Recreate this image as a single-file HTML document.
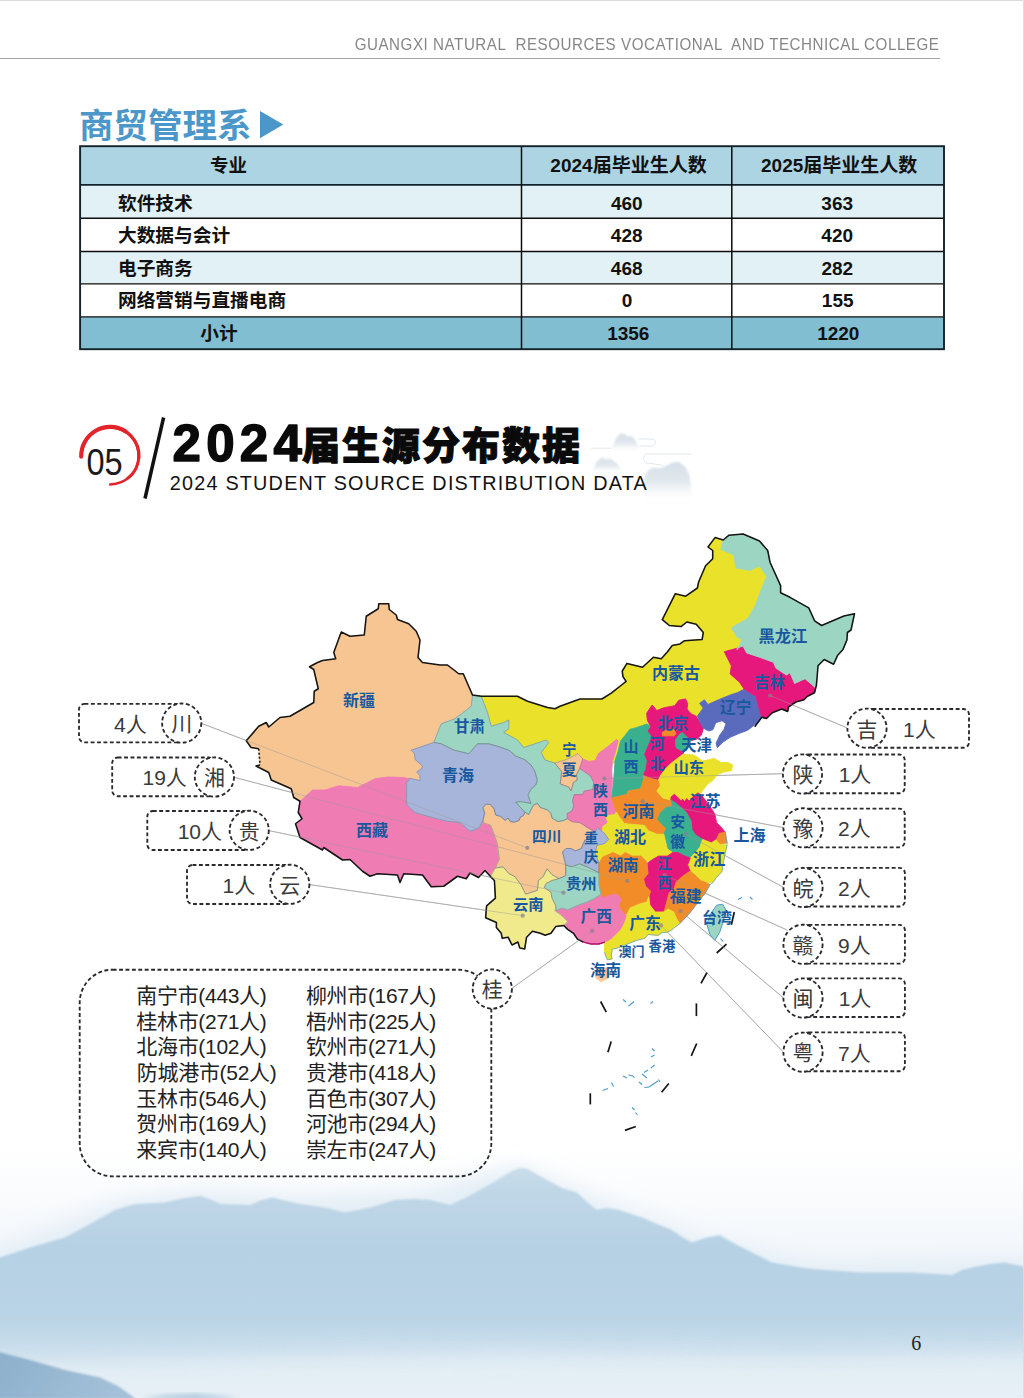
<!DOCTYPE html>
<html lang="zh"><head><meta charset="utf-8"><title>2024届生源分布数据</title>
<style>
html,body{margin:0;padding:0;background:#fff}
body{width:1024px;height:1398px;position:relative;overflow:hidden;font-family:"Liberation Sans",sans-serif}
.abs{position:absolute}
#page{position:absolute;left:0;top:0;width:1024px;height:1398px;overflow:hidden;background:#fff}
#hdr{position:absolute;right:84.4px;top:34.4px;height:20px;line-height:20px;font-size:16.2px;letter-spacing:0.59px;color:#868686;white-space:pre;transform:scaleX(0.935);transform-origin:right center}
#hline{position:absolute;left:0;top:57.8px;width:940px;height:1.6px;background:#a6a6a6}
#sub{position:absolute;left:169.8px;top:471.3px;font-size:19.8px;line-height:24px;color:#111;white-space:nowrap;letter-spacing:1.22px}
#pgno{position:absolute;left:911.3px;top:1331px;font-family:"Liberation Serif",serif;font-size:20px;line-height:24px;color:#222}
svg{position:absolute;left:0;top:0}
svg text{font-family:"Liberation Sans","Noto Sans CJK SC",sans-serif}
</style></head><body><div id="page">

<svg width="1024" height="1398" viewBox="0 0 1024 1398">
<defs>
<linearGradient id="haze" x1="0" y1="0" x2="0" y2="1"><stop offset="0" stop-color="#ffffff"/><stop offset="0.3" stop-color="#f6f9fc"/><stop offset="1" stop-color="#e6eff6"/></linearGradient>
<linearGradient id="mt" x1="0" y1="0" x2="0" y2="1"><stop offset="0" stop-color="#c9dcea"/><stop offset="0.1" stop-color="#c0d7e7"/><stop offset="0.35" stop-color="#b6d1e4"/><stop offset="0.65" stop-color="#bad4e6"/><stop offset="0.8" stop-color="#cde0ed"/><stop offset="0.88" stop-color="#dae8f1"/><stop offset="1" stop-color="#e6eff5"/></linearGradient>
<linearGradient id="mt2" x1="0" y1="0" x2="1" y2="0.25"><stop offset="0" stop-color="#8cafcb"/><stop offset="1" stop-color="#a3c0d8"/></linearGradient>
<filter id="b1" x="-5%" y="-5%" width="110%" height="110%"><feGaussianBlur stdDeviation="1.3"/></filter>
<filter id="b6" x="-10%" y="-30%" width="120%" height="160%"><feGaussianBlur stdDeviation="10"/></filter>
<filter id="b3" x="-10%" y="-30%" width="120%" height="160%"><feGaussianBlur stdDeviation="2.5"/></filter>
</defs>
<rect x="0" y="1150" width="1024" height="248" fill="url(#haze)"/>
<path filter="url(#b6)" fill="#e4eef6" d="M-20 1255 L40 1232 L120 1200 L200 1190 L300 1196 L420 1190 L520 1166 L600 1200 L700 1238 L820 1262 L1044 1256 L1044 1300 L-20 1300Z"/>
<path filter="url(#b1)" fill="url(#mt)" d="M-5 1259 L30 1247.5 L65 1237.5 L90 1224 L115 1210 L135 1204 L165 1202.5 L185 1198 L200 1196 L212 1200 L220 1204 L250 1205 L262 1200 L272.5 1197.5 L286 1201 L300 1204 L325 1207.5 L345 1212.5 L358 1210 L370 1207.5 L395 1200 L415 1199 L430 1200 L450 1205 L465 1198 L480 1190 L497 1180 L512 1171 L520 1168 L527 1168.5 L538 1175 L547 1180 L562 1188 L577 1192.5 L588 1203 L597 1210 L606 1208 L617 1209.5 L628 1213 L642 1217.5 L657 1224 L672 1230 L682 1237 L692 1242.5 L705 1238 L719.5 1235 L728 1240 L737 1245 L755 1254 L772 1262.5 L792 1266 L812 1269 L862 1272.5 L912 1272.5 L937 1274 L952 1275 L962 1270 L972 1267.5 L990 1264 L1004.5 1262.5 L1030 1268 L1030 1400 L-5 1400Z"/>
<path filter="url(#b6)" fill="#e9f1f7" opacity="0.6" d="M-20 1368 L200 1360 L500 1352 L800 1358 L1044 1352 L1044 1420 L-20 1420Z"/>
<path filter="url(#b1)" fill="url(#mt2)" d="M-5 1351 L30 1360 L65 1370 L100 1377.5 L118 1386 L136 1399 L-5 1399Z"/>
<path filter="url(#b3)" fill="#a6c2d8" d="M140 1399 L165 1395.5 L195 1394 L228 1397 L238 1399Z"/>
<g id="decor">
<defs><linearGradient id="dm" x1="0" y1="0" x2="0" y2="1"><stop offset="0" stop-color="#d5dfe7"/><stop offset="0.5" stop-color="#e2e9ee"/><stop offset="1" stop-color="#ffffff" stop-opacity="0"/></linearGradient>
<filter id="bl1" x="-20%" y="-20%" width="140%" height="140%"><feGaussianBlur stdDeviation="0.9"/></filter></defs>
<path filter="url(#bl1)" fill="url(#dm)" d="M611 453 L612.4 447.9 L615.5 439 L620.6 433.3 L624.4 434 L627.6 436.5 L631.4 435.9 L634.6 439 L638.4 446.7 L640.5 453Z"/>
<path filter="url(#bl1)" fill="url(#dm)" d="M591.5 474 L592.7 470.8 L596.5 461.9 L601.6 457.5 L606 459.4 L610.5 458.7 L616.8 463.2 L621.9 470.8 L623 474Z"/>
<path filter="url(#bl1)" fill="url(#dm)" d="M643.5 503 L644.7 475.9 L648.6 470.1 L653.6 467.6 L661.25 468.2 L666.3 465.7 L672.7 462.5 L679 461.9 L685.4 467 L689.2 474.6 L691.1 486 L691.3 503Z"/>
<path d="M590.8 448.2H611.7" stroke="#dfe5ea" stroke-width="0.9" fill="none"/>
<path d="M638.4 439H651.5C657 439 657 446 651.5 446H639.6" stroke="#dde4e9" stroke-width="0.9" fill="none"/>
<path d="M691.7 454H647C642.5 454 642.5 463 647 463L661 465L663.8 467.6" stroke="#dde4e9" stroke-width="0.9" fill="none"/>
</g></svg>
<div id="hdr">GUANGXI NATURAL  RESOURCES VOCATIONAL  AND TECHNICAL COLLEGE</div><div id="hline"></div>
<div id="sub">2024 STUDENT SOURCE DISTRIBUTION DATA</div>
<div id="pgno">6</div>
<svg width="1024" height="1398" viewBox="0 0 1024 1398">
<defs><filter id="bl2" x="-20%" y="-20%" width="140%" height="140%"><feGaussianBlur stdDeviation="2"/></filter><filter id="bl4" x="-20%" y="-20%" width="140%" height="140%"><feGaussianBlur stdDeviation="4"/></filter></defs>
<path d="M0 0.5H1023.5V1397" fill="none" stroke="#dcdcdc" stroke-width="1"/>
<text x="79" y="138" font-size="34.5" font-weight="bold" fill="#4b97c9">商贸管理系</text>
<path d="M260 110.9L283.3 124.6L260 138.3Z" fill="#4b97c9"/>
<rect x="80.1" y="146.2" width="863.9" height="38.7" fill="#acd4e3"/>
<rect x="80.1" y="184.9" width="863.9" height="33.4" fill="#e2f1f5"/>
<rect x="80.1" y="218.3" width="863.9" height="33.2" fill="#ffffff"/>
<rect x="80.1" y="251.5" width="863.9" height="32.4" fill="#e2f1f5"/>
<rect x="80.1" y="283.9" width="863.9" height="33.0" fill="#ffffff"/>
<rect x="80.1" y="316.9" width="863.9" height="32.3" fill="#82bed1"/>
<path d="M80.1 218.3H944.0" stroke="#0c0c0c" stroke-width="1.4"/>
<path d="M80.1 251.5H944.0" stroke="#0c0c0c" stroke-width="1.4"/>
<path d="M80.1 283.9H944.0" stroke="#0c0c0c" stroke-width="1.4"/>
<path d="M80.1 316.9H944.0" stroke="#0c0c0c" stroke-width="1.4"/>
<path d="M80.1 184.9H944.0" stroke="#12222a" stroke-width="1.9"/>
<path d="M521.5 146.2V349.2" stroke="#0c0c0c" stroke-width="1.5"/>
<path d="M731.8 146.2V349.2" stroke="#0c0c0c" stroke-width="1.5"/>
<rect x="80.1" y="146.2" width="863.9" height="203.0" fill="none" stroke="#12222a" stroke-width="1.9"/>
<g font-weight="bold" fill="#111">
<text x="228.5" y="172.4" font-size="18.5" text-anchor="middle">专业</text>
<text x="628.5" y="172.4" font-size="19" text-anchor="middle">2024届毕业生人数</text>
<text x="839.2" y="172.4" font-size="19" text-anchor="middle">2025届毕业生人数</text>
<text x="118" y="209.6" font-size="18.7">软件技术</text>
<text x="626.8" y="209.6" font-size="19" text-anchor="middle">460</text>
<text x="837.2" y="209.6" font-size="19" text-anchor="middle">363</text>
<text x="118" y="241.9" font-size="18.7">大数据与会计</text>
<text x="626.7" y="241.9" font-size="19" text-anchor="middle">428</text>
<text x="837.2" y="241.9" font-size="19" text-anchor="middle">420</text>
<text x="118" y="274.5" font-size="18.7">电子商务</text>
<text x="626.7" y="274.5" font-size="19" text-anchor="middle">468</text>
<text x="837.3" y="274.5" font-size="19" text-anchor="middle">282</text>
<text x="118" y="307.2" font-size="18.7">网络营销与直播电商</text>
<text x="627" y="307.2" font-size="19" text-anchor="middle">0</text>
<text x="837.7" y="307.2" font-size="19" text-anchor="middle">155</text>
<text x="218.9" y="340" font-size="18.7" text-anchor="middle">小计</text>
<text x="628.3" y="340" font-size="19" text-anchor="middle">1356</text>
<text x="838.3" y="340" font-size="19" text-anchor="middle">1220</text>
</g>
<path d="M81.5 456.2A28.6 28.6 0 1 1 110.1 484.4" fill="none" stroke="#e3242b" stroke-width="2.5" stroke-linecap="round"/>
<path d="M81.2 456.6A28.9 28.9 0 0 1 125.4 431.3" fill="none" stroke="#e3242b" stroke-width="4.1" stroke-linecap="round"/>
<path d="M110.1 427A28.8 28.8 0 0 1 138.8 458" fill="none" stroke="#e3242b" stroke-width="3.3" stroke-linecap="round"/>
<path d="M138.8 456A28.7 28.7 0 0 1 128 478.2" fill="none" stroke="#e3242b" stroke-width="2.9" stroke-linecap="round"/>
<text x="86.5" y="474.6" font-size="37" fill="#1a1a1a" textLength="36.2" lengthAdjust="spacingAndGlyphs">05</text>
<path d="M163.6 417.5L145 498.5" stroke="#111" stroke-width="3.5" fill="none"/>
<text x="172.5" y="460.6" font-size="51" font-weight="bold" letter-spacing="5.3" fill="#0a0a0a" stroke="#0a0a0a" stroke-width="1.5" stroke-linejoin="round">2024</text>
<text x="302" y="459" font-size="38" font-weight="900" letter-spacing="2" fill="#0a0a0a" stroke="#0a0a0a" stroke-width="1.1" stroke-linejoin="round">届生源分布数据</text>
<g id="map">
<g><line x1="201.5" y1="723.4" x2="527.3" y2="847.9" stroke="#9a9a9a" stroke-width="0.65"/>
<line x1="234.2" y1="777.3" x2="627.2" y2="880.9" stroke="#9a9a9a" stroke-width="0.65"/>
<line x1="269.0" y1="830.6" x2="563.4" y2="892.7" stroke="#9a9a9a" stroke-width="0.65"/>
<line x1="309.6" y1="884.6" x2="522.7" y2="915.7" stroke="#9a9a9a" stroke-width="0.65"/>
<line x1="847.2" y1="727.9" x2="770.0" y2="695.5" stroke="#9a9a9a" stroke-width="0.65"/>
<line x1="782.7" y1="773.7" x2="604.4" y2="778.6" stroke="#9a9a9a" stroke-width="0.65"/>
<line x1="783.2" y1="827.5" x2="642.7" y2="801.3" stroke="#9a9a9a" stroke-width="0.65"/>
<line x1="783.2" y1="887.2" x2="685.8" y2="834.2" stroke="#9a9a9a" stroke-width="0.65"/>
<line x1="787.5" y1="930.2" x2="664.7" y2="875.1" stroke="#9a9a9a" stroke-width="0.65"/>
<line x1="783.2" y1="997.7" x2="680.6" y2="911.0" stroke="#9a9a9a" stroke-width="0.65"/>
<line x1="783.2" y1="1051.9" x2="661.0" y2="925.4" stroke="#9a9a9a" stroke-width="0.65"/>
<line x1="512.1" y1="988.2" x2="592.1" y2="930.9" stroke="#9a9a9a" stroke-width="0.65"/></g>
<polygon points="481.25,696.25 517.5,696.25 527.5,701.25 547.5,707.5 555,708.75 560,706.25 580,699 601.9,699 611.25,693.1 622.2,684.5 626.1,681.4 623,676.7 622.2,671.25 626.9,663.4 642.5,667.3 653.4,657.2 661.25,658.75 667.5,651.7 672.2,645.5 680,643.9 684.5,640.7 702.1,639.5 703.3,632.5 696.25,624.3 686.9,622 681,626.6 669.3,625.5 662.3,619.6 675.2,593.8 685.7,596.2 697.4,588 698.6,582 705.6,565.7 712.7,558.7 712.7,550.5 708,547 715,537.6 723.2,540 720.9,549.3 733.75,555.2 736,568 750,570.4 759.5,565.7 766.6,576.25 761.9,588 754.8,606.7 747.8,618.4 731.4,627.8 737.25,637.2 742,639.5 737.25,650 724.4,653.6 736,660 740,675 746,690 737.2,692.7 730.2,695 718.4,699.8 707.9,704.5 704.4,699.8 699.7,703.3 703.2,708 697.3,716.2 690,720 660,735 640,745 620,760 590,775 560,780 540,770 520,760 500,745 490,735 487.5,712.5" fill="#e9e12a" stroke="#e9e12a" stroke-width="0.9" stroke-linejoin="round"/>
<polygon points="378.75,603.75 388.75,603.75 389.25,609.5 396.25,615 397.5,619.5 408.75,623.75 416.25,631.25 420,640 418,657.5 422.5,662.5 440,665 447.5,665 458.75,673.75 463.25,673.75 472.5,695 471.25,706.25 455,718.75 441.25,723.75 433.75,742.5 432,760 430,783 405,783 387.5,777 375,778.75 357.5,787.5 338.75,785.75 325,790 312.5,790 300,801.25 293.75,797.5 291.25,788.75 271.25,780 268.75,772.5 256,766 260,765 258.75,748.75 251,747.5 247.5,742.5 246.25,740.75 258.75,726.25 266.25,722.5 268.75,727 280,717.5 290,716.25 313.75,702.5 314.25,691.25 318.25,688.75 313.75,669.5 309.5,666.75 317.5,662.5 322.5,660.5 335.75,658.75 333.75,652.5 341.25,632 350,636.25 364.25,635 366.25,616.25 378.25,608.75" fill="#f6c592" stroke="#f6c592" stroke-width="0.9" stroke-linejoin="round"/>
<polygon points="300,801.25 312.5,790 325,790 338.75,785.75 357.5,787.5 375,778.75 387.5,777 402.7,777.5 412,779 413,800 421,809 435,813 450,817 463,818 473,827 478,826 482.9,820.4 484.6,823.3 490.5,825.1 493.4,832.1 497.3,843.4 499.3,859 495.4,867.9 490.5,876.6 485,870.5 478.5,877.5 470,873 466.25,878.75 457.5,876.25 443.75,886.25 431.25,886.75 422.5,875 403.75,873.75 400,882.5 397.5,875 377.5,873.75 370,876.25 362.5,871.25 350,859.5 342.5,860 323.75,847.5 322.5,850 300,837.5 295.5,823.75 302,818.75 298.25,812.5" fill="#f07cb4" stroke="#f07cb4" stroke-width="0.9" stroke-linejoin="round"/>
<polygon points="486.4,804 490.5,804.6 494,808.7 495.8,815.1 500.5,816.3 505.2,820.4 508.1,818 510.4,821.6 514.5,822.1 519.2,820.4 520.4,816.9 523.3,815.7 525.1,812.2 528.6,814.5 533.3,805.2 537.4,803.4 540.3,807.5 547.3,809.8 550.9,813.4 552,818 557.9,821.6 563.75,820.4 567.3,818.6 572,821.6 580.2,822.7 587.2,827.4 595,831.7 587.2,839.5 584.8,840.3 581.3,848.5 575.5,850.9 570.8,848.5 566.1,848.5 562.6,852 563.75,856.7 565.7,864.9 565.7,868.8 565.7,875.7 558.9,878.6 552,874.7 547.1,868.8 543.2,876.6 538.4,880.5 537.4,890.3 525.7,894.2 520.8,884.5 514.9,876.6 509,873.7 503.2,866.9 495.4,867.9 499.3,859 497.3,843.4 493.4,832.1 490.5,825.1 484.6,823.3 482.9,820.4 484.6,813.4 482.9,807.5" fill="#f6c592" stroke="#f6c592" stroke-width="0.9" stroke-linejoin="round"/>
<polygon points="433.75,742.5 441.25,743.75 453.75,750 468.75,753.75 477.5,743.75 488.75,743.75 500,747 509.4,750.5 515.6,756 525,759.8 531.25,765.3 535,771.5 537.4,780.5 535.6,785.2 530.9,789.3 528,795.2 529.8,800.5 530.9,803.4 520.4,801.6 515.7,802.2 521.6,808.7 525.1,812.2 523.3,815.7 520.4,816.9 519.2,820.4 514.5,822.1 510.4,821.6 508.1,818 505.2,820.4 500.5,816.3 495.8,815.1 494,808.7 490.5,804.6 486.4,804 482.9,807.5 484.6,813.4 482.9,820.4 479.4,827.4 474.7,829.8 470,831.25 460,822.5 447.5,821.25 432.5,817.5 415,812.5 407,805 406.6,800 406.6,782.2 408.9,780.6 409.3,778.3 420.2,780.6 419.8,775.2 416.7,772 422.2,768.1 422.2,765.8 415.2,759.5 414.4,753.3 411.25,750.2" fill="#a8b5db" stroke="#a8b5db" stroke-width="0.9" stroke-linejoin="round"/>
<polygon points="472.5,695 481.25,696.25 487.5,712.5 491.25,726.25 503.75,722.5 508.75,720 508.75,728.75 503.75,732.5 517.5,740 523.75,747.5 535,743.75 546.25,740 548.75,742.5 541.25,752.5 545,760 554.7,763 561.7,771.6 560.2,784 568.75,787 571,791 573.4,782.5 577.3,780 576.5,774.7 579.7,768.4 590.6,776 593.75,782.5 593,789.5 584.3,791.1 582.5,794.6 574.3,794.6 572.5,800.5 573.7,806.3 572,811 567.3,813.4 567.3,818.6 563.75,820.4 557.9,821.6 552,818 550.9,813.4 547.3,809.8 540.3,807.5 537.4,803.4 533.3,805.2 528.6,814.5 525.1,812.2 521.6,808.7 515.7,802.2 520.4,801.6 530.9,803.4 529.8,800.5 528,795.2 530.9,789.3 535.6,785.2 537.4,780.5 535,771.5 531.25,765.3 525,759.8 515.6,756 509.4,750.5 500,747 488.75,743.75 477.5,743.75 468.75,753.75 453.75,750 441.25,743.75 433.75,742.5 441.25,723.75 455,718.75 471.25,706.25" fill="#9dd5c3" stroke="#9dd5c3" stroke-width="0.9" stroke-linejoin="round"/>
<polygon points="554.7,763 565.6,759.8 578,753.6 582.8,759 579.7,768.4 576.5,774.7 577.3,780 573.4,782.5 571,791 568.75,787 560.2,784 561.7,771.6" fill="#f6c592" stroke="#f6c592" stroke-width="0.9" stroke-linejoin="round"/>
<polygon points="616.4,739.5 618,741 615.6,751.25 612.5,760.6 611.7,771.5 612.5,782.5 611,798 616.4,812 614.8,814.5 609.4,815.3 606.25,816.9 607.8,823 603,826.25 602.3,831.7 597.7,827.8 595,831.7 587.2,827.4 580.2,822.7 572,821.6 567.3,818.6 567.3,813.4 572,811 573.7,806.3 572.5,800.5 574.3,794.6 582.5,794.6 584.3,791.1 593,789.5 593.75,782.5 590.6,776 579.7,768.4 582.8,759 589,761.4 595.3,760.6 598.4,753.6 607.8,746.6" fill="#f07cb4" stroke="#f07cb4" stroke-width="0.9" stroke-linejoin="round"/>
<polygon points="629.7,729.4 636,727.8 646.9,724 650.8,726.9 648,731 652.1,736.5 648.7,744.7 644.6,754.3 647.3,761.1 646,769.3 643.2,775.5 643.75,778.6 640.6,788.75 628,791 627.3,794.2 611.7,798 613.5,782.5 614.3,771.5 615,760.6 618.2,751.25 620.5,741 625,735.6" fill="#3bb08f" stroke="#3bb08f" stroke-width="0.9" stroke-linejoin="round"/>
<polygon points="652.1,705 656.9,710.5 663.75,707.8 674.7,705.7 678.8,700.25 685.6,698.9 687.7,703.7 687,709.1 691.1,713.9 695.9,716 700,722.1 703.4,728.3 701.4,735.1 696.6,739.2 691.1,740.6 688.4,744.7 684.3,750.2 682.9,754.3 677.4,758.4 670.6,763.8 665.1,769.3 661,774.8 658.3,780.25 652.1,778.9 643.2,775.5 646,769.3 647.3,761.1 644.6,754.3 648.7,744.7 652.1,736.5 648,731 650.8,726.9 647.3,720.1 646.7,713.2" fill="#e7187c" stroke="#e7187c" stroke-width="0.9" stroke-linejoin="round"/>
<polygon points="678.8,735.1 682.2,732.4 687,737.2 691.1,740.6 688.4,744.7 684.3,750.2 680.2,750.2 676,747.4 675.4,740.6" fill="#3bb08f" stroke="#3bb08f" stroke-width="0.9" stroke-linejoin="round"/>
<polygon points="662.4,732.4 667.2,729 674,729.6 676,733.75 674,735.8 662.4,735.8" fill="#f28c28" stroke="#f28c28" stroke-width="0.9" stroke-linejoin="round"/>
<polygon points="744.2,689.2 755.9,696.25 758.3,705.6 761.8,717.3 758.3,722 747.7,730.2 738.4,733.75 730.2,737.3 723.1,742 717.3,747.8 716.1,743.1 719.8,735.1 723.9,729.6 726,723.5 721.9,720.8 715.7,722.8 713,729.6 708.9,731 703.4,728.3 700,722.1 697.3,716.2 703.2,708 699.7,703.3 704.4,699.8 707.9,704.5 718.4,699.8 730.2,695 737.2,692.7" fill="#5a6bbd" stroke="#5a6bbd" stroke-width="0.9" stroke-linejoin="round"/>
<polygon points="724.3,651.7 737.2,648.2 743,645.9 746.6,652.9 760.6,657.6 773.5,662.3 775.8,668 786.4,675 790,672.8 794.6,683.4 805.1,678.7 815.7,688 814.5,692.7 807.5,696.25 804,699.8 795.8,702 788.7,706.8 787.6,711.5 781.7,709 772.3,712.7 766.5,718.5 761.8,717.3 758.3,705.6 755.9,696.25 744.2,689.2 739.5,682.2 730.2,674 731.3,665.8" fill="#e7187c" stroke="#e7187c" stroke-width="0.9" stroke-linejoin="round"/>
<polygon points="723.2,540 729,535.2 743.1,534 759.5,541 767.7,550.5 770,562.2 780.6,585.6 780.6,592.7 790,597.3 808.75,607.9 814.6,620.8 821.6,625.5 843.9,616 854.5,613.75 851,630 847.4,632.5 846.9,640 843,649.4 837.5,655.6 833.6,664.2 824.2,659.5 818,665.8 817.2,676 816.4,685.3 815.7,688 805.1,678.7 794.6,683.4 790,672.8 786.4,675 775.8,668 773.5,662.3 760.6,657.6 746.6,652.9 743,645.9 737.2,648.2 737.25,650 742,639.5 737.25,637.2 731.4,627.8 747.8,618.4 754.8,606.7 761.9,588 766.6,576.25 759.5,565.7 750,570.4 736,568 733.75,555.2 720.9,549.3" fill="#9dd5c3" stroke="#9dd5c3" stroke-width="0.9" stroke-linejoin="round"/>
<polygon points="611.5,798 627.3,794.2 628,791 640.6,788.75 643.75,778.6 643.2,775.5 652.1,778.9 658.3,780.25 659.4,779.7 660.3,785.8 656.8,791.1 662.9,798.1 670.9,799.9 672.6,806 665.6,807.8 660.3,813.1 657.7,819.2 662.1,824.5 666.5,828 663.8,834.2 656.8,834.2 648,830.6 644.5,825.4 633.9,824.5 624.3,823.6 619,816.6 616.4,812" fill="#f28c28" stroke="#f28c28" stroke-width="0.9" stroke-linejoin="round"/>
<polygon points="682.9,754.3 693.8,755 699.3,758.4 702,761.1 708.9,759.7 714.3,758.4 721.2,762.5 728,762.5 732.8,765.2 731.4,770.7 723.9,772 717.1,774.8 713,780.25 707.5,784.3 702,791.2 699,796 692,802 684,804 676.1,800 670.9,799.9 662.9,798.1 656.8,791.1 660.3,785.8 659.4,779.7 658.3,780.25 661,774.8 665.1,769.3 670.6,763.8 677.4,758.4" fill="#e9e12a" stroke="#e9e12a" stroke-width="0.9" stroke-linejoin="round"/>
<polygon points="671,797.1 674.4,794.2 678.3,798.1 681.25,801 682.7,799 684.7,802 686.6,798.6 689.1,801 692,797.6 697.9,792.9 701.8,795.6 708.6,804.4 714.8,813.9 716.6,822.7 721.8,828 725.3,832.4 719.2,833.3 716.6,839.4 711.3,842.9 702.5,839.4 695.5,835 692,829.8 691.1,821 686.7,813.1 681.4,807.8 676.1,803.4 670.9,799.9" fill="#e7187c" stroke="#e7187c" stroke-width="0.9" stroke-linejoin="round"/>
<polygon points="670.9,799.9 676.1,803.4 681.4,807.8 686.7,813.1 691.1,821 692,829.8 695.5,835 702.5,839.4 699.9,847.3 695.5,852.6 690.2,857.9 684.9,856.1 677.9,852.6 672.6,852.6 667.3,849.1 665.6,842 663.8,834.2 666.5,828 662.1,824.5 657.7,819.2 660.3,813.1 665.6,807.8 672.6,806" fill="#3bb08f" stroke="#3bb08f" stroke-width="0.9" stroke-linejoin="round"/>
<polygon points="616.4,812 619,816.6 624.3,823.6 633.9,824.5 644.5,825.4 648,830.6 656.8,834.2 663.8,834.2 665.6,842 667.3,849.1 672.6,852.6 667.3,856.1 658.6,856.1 652.4,859.6 646.25,861.4 641,856.1 632.2,856.1 625.2,852.6 620.8,856.1 612.9,852.6 602.8,857.1 598.9,863 595,853.2 597,845.4 604.8,843.4 608.7,839.5 604.8,833.7 602.3,831.7 603,826.25 607.8,823 606.25,816.9 609.4,815.3 614.8,814.5" fill="#e9e12a" stroke="#e9e12a" stroke-width="0.9" stroke-linejoin="round"/>
<polygon points="595,831.7 597.7,827.8 602.3,831.7 604.8,833.7 608.7,839.5 604.8,843.4 597,845.4 595,853.2 598.9,863 598.9,872.7 591.1,868.8 587.2,866.9 579.4,863.9 571.6,866.9 565.7,864.9 563.75,856.7 562.6,852 566.1,848.5 570.8,848.5 575.5,850.9 581.3,848.5 584.8,840.3 587.2,839.5" fill="#a8b5db" stroke="#a8b5db" stroke-width="0.9" stroke-linejoin="round"/>
<polygon points="702.5,839.4 711.3,842.9 716.6,839.4 720,843.8 727.1,845 725.3,852.6 723.6,861.4 721.8,872 716.6,877.2 713,882.5 706,882.5 700.7,880.7 695.5,875.5 690.2,871.1 687.6,864.9 690.2,857.9 695.5,852.6 699.9,847.3" fill="#e9e12a" stroke="#e9e12a" stroke-width="0.9" stroke-linejoin="round"/>
<polygon points="719.2,833.3 725.3,832.4 727.1,843 720,843.8 716.6,839.4" fill="#f28c28" stroke="#f28c28" stroke-width="0.9" stroke-linejoin="round"/>
<polygon points="658.6,856.1 667.3,856.1 672.6,852.6 677.9,852.6 684.9,856.1 690.2,857.9 687.6,864.9 690.2,871.1 681.4,877.2 676.1,882.5 674.4,887.8 669.1,893 667.3,900.1 664,912 655.2,912 649.8,905 648.9,896.6 650.6,891.3 645.4,886 643.6,879 648,873.7 647.1,863.2 652.4,859.6" fill="#e7187c" stroke="#e7187c" stroke-width="0.9" stroke-linejoin="round"/>
<polygon points="690.2,871.1 695.5,875.5 700.7,880.7 706,882.5 709.9,884.6 705,893.4 697.2,903.2 691.3,911 683.5,919.8 679.6,923.7 676.7,918.8 673.75,912 667.9,909.1 664,912 667.3,900.1 669.1,893 674.4,887.8 676.1,882.5 681.4,877.2" fill="#f28c28" stroke="#f28c28" stroke-width="0.9" stroke-linejoin="round"/>
<polygon points="598.9,863 602.8,857.1 612.9,852.6 620.8,856.1 625.2,852.6 632.2,856.1 641,856.1 646.25,861.4 647.1,863.2 648,873.7 643.6,879 645.4,886 650.6,891.3 648.9,896.6 646.8,902 639.9,904 630.2,907.9 626.25,915.7 622.3,911.8 618.4,905.9 621.4,899.1 616.5,894.2 610.6,895.2 602.8,898.1 600.9,894.2 598.9,884.5 598.9,872.7" fill="#f28c28" stroke="#f28c28" stroke-width="0.9" stroke-linejoin="round"/>
<polygon points="626.25,915.7 630.2,907.9 639.9,904 646.8,902 648.9,896.6 649.8,905 655.2,912 664,912 667.9,909.1 673.75,912 676.7,918.8 679.6,923.7 675.7,926.6 670.8,930.5 665.9,932.5 662,932.5 658.1,935.4 648.4,934.5 644.5,938.4 636.6,940.3 626.9,944.2 617.1,948.1 612.2,949.1 611.25,955.9 612.2,958.9 607.3,959.8 604.4,952 604.8,942.1 610.6,939.1 614.5,935.2 620.4,929.4 624.3,921.6" fill="#e9e12a" stroke="#e9e12a" stroke-width="0.9" stroke-linejoin="round"/>
<polygon points="555.9,910.8 561.8,907.9 567.7,909.8 576.4,905.9 581.3,904 587.2,902 595,898.1 600.9,894.2 602.8,898.1 610.6,895.2 616.5,894.2 621.4,899.1 618.4,905.9 622.3,911.8 626.25,915.7 624.3,921.6 620.4,929.4 614.5,935.2 610.6,939.1 604.8,942.1 598.9,944 591.1,944 583.3,942.1 577.4,939.1 573.5,933.3 567.7,929.4 563.75,925.5 567.7,921.6 561.8,915.7 555,910.8" fill="#f07cb4" stroke="#f07cb4" stroke-width="0.9" stroke-linejoin="round"/>
<polygon points="544.2,887.4 546.2,883.5 552,880.5 558.9,878.6 565.7,875.7 565.7,868.8 565.7,864.9 571.6,866.9 579.4,863.9 587.2,866.9 591.1,868.8 598.9,872.7 598.9,884.5 600.9,894.2 595,898.1 587.2,902 581.3,904 576.4,905.9 567.7,909.8 561.8,907.9 556,910.8 555.9,905.9 552,898.1 551,892.3" fill="#9dd5c3" stroke="#9dd5c3" stroke-width="0.9" stroke-linejoin="round"/>
<polygon points="490.5,876.6 495.4,867.9 503.2,866.9 509,873.7 514.9,876.6 520.8,884.5 525.7,894.2 537.4,890.3 538.4,880.5 543.2,876.6 547.1,868.8 552,874.7 558.9,878.6 552,880.5 546.2,883.5 544.2,887.4 551,892.3 552,898.1 555.9,905.9 555,910.8 561.8,915.7 567.7,921.6 563.75,925.5 555.9,926.4 551,933.3 545.2,935.2 540.3,933.3 532.5,931.3 526.6,937.2 524.7,948.9 519.8,947.9 517.9,942 512,945 508.1,937.2 502.2,938.2 501.25,933.3 496.4,927.4 496.4,922.5 485.6,917.7 486.6,905.9 495.4,898.1 494.4,880.5" fill="#f0ea8c" stroke="#f0ea8c" stroke-width="0.9" stroke-linejoin="round"/>
<polygon points="595,972 599,968 607,968 610.5,973 607,979 601,981.5 596,978" fill="#f6c592" stroke="#f6c592" stroke-width="0.9" stroke-linejoin="round"/>
<polygon points="716.7,905.2 722.6,904.2 725.5,909.1 723.5,920.8 719.6,932.5 714.8,940.3 709.9,934.5 707,924.7 709.9,914.9" fill="#9dd5c3" stroke="#4a9ac9" stroke-width="1"/>
<polygon points="433.75,742.5 441.25,743.75 453.75,750 468.75,753.75 477.5,743.75 488.75,743.75 500,747 509.4,750.5 515.6,756 525,759.8 531.25,765.3 535,771.5 537.4,780.5 535.6,785.2 530.9,789.3 528,795.2 529.8,800.5 530.9,803.4 520.4,801.6 515.7,802.2 521.6,808.7 525.1,812.2 523.3,815.7 520.4,816.9 519.2,820.4 514.5,822.1 510.4,821.6 508.1,818 505.2,820.4 500.5,816.3 495.8,815.1 494,808.7 490.5,804.6 486.4,804 482.9,807.5 484.6,813.4 482.9,820.4 479.4,827.4 474.7,829.8 470,831.25 460,822.5 447.5,821.25 432.5,817.5 415,812.5 407,805 406.6,800 406.6,782.2 408.9,780.6 409.3,778.3 420.2,780.6 419.8,775.2 416.7,772 422.2,768.1 422.2,765.8 415.2,759.5 414.4,753.3 411.25,750.2" fill="none" stroke="#6b7686" stroke-opacity="0.55" stroke-width="0.85" stroke-linejoin="round"/>
<polygon points="472.5,695 481.25,696.25 487.5,712.5 491.25,726.25 503.75,722.5 508.75,720 508.75,728.75 503.75,732.5 517.5,740 523.75,747.5 535,743.75 546.25,740 548.75,742.5 541.25,752.5 545,760 554.7,763 561.7,771.6 560.2,784 568.75,787 571,791 573.4,782.5 577.3,780 576.5,774.7 579.7,768.4 590.6,776 593.75,782.5 593,789.5 584.3,791.1 582.5,794.6 574.3,794.6 572.5,800.5 573.7,806.3 572,811 567.3,813.4 567.3,818.6 563.75,820.4 557.9,821.6 552,818 550.9,813.4 547.3,809.8 540.3,807.5 537.4,803.4 533.3,805.2 528.6,814.5 525.1,812.2 521.6,808.7 515.7,802.2 520.4,801.6 530.9,803.4 529.8,800.5 528,795.2 530.9,789.3 535.6,785.2 537.4,780.5 535,771.5 531.25,765.3 525,759.8 515.6,756 509.4,750.5 500,747 488.75,743.75 477.5,743.75 468.75,753.75 453.75,750 441.25,743.75 433.75,742.5 441.25,723.75 455,718.75 471.25,706.25" fill="none" stroke="#6b7686" stroke-opacity="0.55" stroke-width="0.85" stroke-linejoin="round"/>
<polygon points="486.4,804 490.5,804.6 494,808.7 495.8,815.1 500.5,816.3 505.2,820.4 508.1,818 510.4,821.6 514.5,822.1 519.2,820.4 520.4,816.9 523.3,815.7 525.1,812.2 528.6,814.5 533.3,805.2 537.4,803.4 540.3,807.5 547.3,809.8 550.9,813.4 552,818 557.9,821.6 563.75,820.4 567.3,818.6 572,821.6 580.2,822.7 587.2,827.4 595,831.7 587.2,839.5 584.8,840.3 581.3,848.5 575.5,850.9 570.8,848.5 566.1,848.5 562.6,852 563.75,856.7 565.7,864.9 565.7,868.8 565.7,875.7 558.9,878.6 552,874.7 547.1,868.8 543.2,876.6 538.4,880.5 537.4,890.3 525.7,894.2 520.8,884.5 514.9,876.6 509,873.7 503.2,866.9 495.4,867.9 499.3,859 497.3,843.4 493.4,832.1 490.5,825.1 484.6,823.3 482.9,820.4 484.6,813.4 482.9,807.5" fill="none" stroke="#6b7686" stroke-opacity="0.55" stroke-width="0.85" stroke-linejoin="round"/>
<polygon points="490.5,876.6 495.4,867.9 503.2,866.9 509,873.7 514.9,876.6 520.8,884.5 525.7,894.2 537.4,890.3 538.4,880.5 543.2,876.6 547.1,868.8 552,874.7 558.9,878.6 552,880.5 546.2,883.5 544.2,887.4 551,892.3 552,898.1 555.9,905.9 555,910.8 561.8,915.7 567.7,921.6 563.75,925.5 555.9,926.4 551,933.3 545.2,935.2 540.3,933.3 532.5,931.3 526.6,937.2 524.7,948.9 519.8,947.9 517.9,942 512,945 508.1,937.2 502.2,938.2 501.25,933.3 496.4,927.4 496.4,922.5 485.6,917.7 486.6,905.9 495.4,898.1 494.4,880.5" fill="none" stroke="#6b7686" stroke-opacity="0.55" stroke-width="0.85" stroke-linejoin="round"/>
<polygon points="544.2,887.4 546.2,883.5 552,880.5 558.9,878.6 565.7,875.7 565.7,868.8 565.7,864.9 571.6,866.9 579.4,863.9 587.2,866.9 591.1,868.8 598.9,872.7 598.9,884.5 600.9,894.2 595,898.1 587.2,902 581.3,904 576.4,905.9 567.7,909.8 561.8,907.9 556,910.8 555.9,905.9 552,898.1 551,892.3" fill="none" stroke="#6b7686" stroke-opacity="0.55" stroke-width="0.85" stroke-linejoin="round"/>
<polygon points="554.7,763 565.6,759.8 578,753.6 582.8,759 579.7,768.4 576.5,774.7 577.3,780 573.4,782.5 571,791 568.75,787 560.2,784 561.7,771.6" fill="none" stroke="#6b7686" stroke-opacity="0.55" stroke-width="0.85" stroke-linejoin="round"/>
<polygon points="595,831.7 597.7,827.8 602.3,831.7 604.8,833.7 608.7,839.5 604.8,843.4 597,845.4 595,853.2 598.9,863 598.9,872.7 591.1,868.8 587.2,866.9 579.4,863.9 571.6,866.9 565.7,864.9 563.75,856.7 562.6,852 566.1,848.5 570.8,848.5 575.5,850.9 581.3,848.5 584.8,840.3 587.2,839.5" fill="none" stroke="#6b7686" stroke-opacity="0.55" stroke-width="0.85" stroke-linejoin="round"/>
<polyline points="754.7,726.7 758.3,722 761.8,717.3 766.5,718.5 772.3,712.7 781.7,709 787.6,711.5 788.7,706.8 795.8,702 804,699.8 807.5,696.25 814.5,692.7 815.7,688 816.4,685.3 817.2,676 818,665.8 824.2,659.5 833.6,664.2 837.5,655.6 843,649.4 846.9,640 847.4,632.5 851,630 854.5,613.75 843.9,616 821.6,625.5 814.6,620.8 808.75,607.9 790,597.3 780.6,592.7 780.6,585.6 770,562.2 767.7,550.5 759.5,541 743.1,534 729,535.2 723.2,540 715,537.6 708,547 712.7,550.5 712.7,558.7 705.6,565.7 698.6,582 697.4,588 685.7,596.2 675.2,593.8 662.3,619.6 669.3,625.5 681,626.6 686.9,622 696.25,624.3 703.3,632.5 702.1,639.5 684.5,640.7 680,643.9 672.2,645.5 667.5,651.7 661.25,658.75 653.4,657.2 642.5,667.3 626.9,663.4 622.2,671.25 623,676.7 626.1,681.4 622.2,684.5 611.25,693.1 601.9,699 580,699 560,706.25 555,708.75 547.5,707.5 527.5,701.25 517.5,696.25 481.25,696.25 472.5,695 463.25,673.75 458.75,673.75 447.5,665 440,665 422.5,662.5 418,657.5 420,640 416.25,631.25 408.75,623.75 397.5,619.5 396.25,615 389.25,609.5 388.75,603.75 378.75,603.75 378.25,608.75 366.25,616.25 364.25,635 350,636.25 341.25,632 333.75,652.5 335.75,658.75 322.5,660.5 317.5,662.5 309.5,666.75 313.75,669.5 318.25,688.75 314.25,691.25 313.75,702.5 290,716.25 280,717.5 268.75,727 266.25,722.5 258.75,726.25 246.25,740.75 247.5,742.5 251,747.5 258.75,748.75" fill="none" stroke="#151515" stroke-width="1.55" stroke-linejoin="round"/>
<polyline points="258.75,748.75 260,765" fill="none" stroke="#151515" stroke-width="1.6" stroke-dasharray="2 2"/>
<polyline points="260,765 256,766 268.75,772.5 271.25,780 291.25,788.75 293.75,797.5 300,801.25 298.25,812.5 302,818.75 295.5,823.75 300,837.5 322.5,850 323.75,847.5 342.5,860 350,859.5 362.5,871.25 370,876.25 377.5,873.75 397.5,875 400,882.5 403.75,873.75 422.5,875 431.25,886.75 443.75,886.25 457.5,876.25 466.25,878.75 470,873 478.5,877.5 485,870.5 490.5,876.6 494.4,880.5 495.4,898.1 486.6,905.9 485.6,917.7 496.4,922.5 496.4,927.4 501.25,933.3 502.2,938.2 508.1,937.2 512,945 517.9,942 519.8,947.9 524.7,948.9 526.6,937.2 532.5,931.3 540.3,933.3 545.2,935.2 551,933.3 555.9,926.4 563.75,925.5 567.7,929.4 573.5,933.3 577.4,939.1 583.3,942.1" fill="none" stroke="#151515" stroke-width="1.55" stroke-linejoin="round"/>
<polyline points="583.3,942.1 591.1,944 598.9,944 604.8,942.1" fill="none" stroke="#b0106a" stroke-width="1.4"/>
<polyline points="604.4,952 607.3,959.8 612.2,958.9 611.25,955.9 612.2,949.1 617.1,948.1 626.9,944.2 636.6,940.3 644.5,938.4 648.4,934.5 658.1,935.4 662,932.5 665.9,932.5 670.8,930.5 675.7,926.6 679.6,923.7 683.5,919.8 691.3,911 697.2,903.2 705,893.4 709.9,884.6 713,882.5 716.6,877.2 721.8,872 723.6,861.4 725.3,852.6 727.1,845 727.1,843 725.3,832.4" fill="none" stroke="#5a9fd0" stroke-opacity="0.8" stroke-width="0.9" stroke-linejoin="round"/>
<line x1="734.3" y1="912" x2="731.4" y2="924.7" stroke="#151515" stroke-width="1.7"/>
<line x1="726.5" y1="944.2" x2="716.7" y2="953" stroke="#151515" stroke-width="1.7"/>
<line x1="707" y1="972.5" x2="701" y2="983.3" stroke="#151515" stroke-width="1.7"/>
<line x1="696.4" y1="1003.4" x2="696.4" y2="1016.1" stroke="#151515" stroke-width="1.7"/>
<line x1="600.6" y1="1001.5" x2="606.3" y2="1012.2" stroke="#151515" stroke-width="1.7"/>
<line x1="611.2" y1="1041.5" x2="607.9" y2="1052.3" stroke="#151515" stroke-width="1.7"/>
<line x1="696.7" y1="1043.5" x2="691.25" y2="1055.8" stroke="#151515" stroke-width="1.7"/>
<line x1="590.3" y1="1093.3" x2="590.3" y2="1104.4" stroke="#151515" stroke-width="1.7"/>
<line x1="668.8" y1="1083.5" x2="661.6" y2="1092.3" stroke="#151515" stroke-width="1.7"/>
<line x1="625" y1="1130.4" x2="635.8" y2="1126.5" stroke="#151515" stroke-width="1.7"/>
<line x1="738" y1="899.5" x2="742" y2="897.5" stroke="#4a9ac9" stroke-width="1.1"/>
<line x1="750" y1="897" x2="752.5" y2="899.5" stroke="#4a9ac9" stroke-width="1.1"/>
<line x1="623" y1="999.5" x2="626" y2="1002" stroke="#4a9ac9" stroke-width="1.1"/>
<line x1="628.5" y1="1006" x2="634" y2="1001.5" stroke="#4a9ac9" stroke-width="1.1"/>
<line x1="650.5" y1="1003.5" x2="653" y2="1001.5" stroke="#4a9ac9" stroke-width="1.1"/>
<line x1="652" y1="1048.5" x2="654.5" y2="1051" stroke="#4a9ac9" stroke-width="1.1"/>
<line x1="654.5" y1="1055" x2="651" y2="1057" stroke="#4a9ac9" stroke-width="1.1"/>
<line x1="654.5" y1="1065" x2="651" y2="1068" stroke="#4a9ac9" stroke-width="1.1"/>
<line x1="648" y1="1070" x2="644" y2="1072.5" stroke="#4a9ac9" stroke-width="1.1"/>
<line x1="642" y1="1074" x2="647" y2="1078" stroke="#4a9ac9" stroke-width="1.1"/>
<line x1="623" y1="1076" x2="627" y2="1078" stroke="#4a9ac9" stroke-width="1.1"/>
<line x1="628.5" y1="1075" x2="633" y2="1076" stroke="#4a9ac9" stroke-width="1.1"/>
<line x1="633" y1="1076" x2="634.5" y2="1078" stroke="#4a9ac9" stroke-width="1.1"/>
<line x1="611.5" y1="1082.5" x2="613.5" y2="1086.5" stroke="#4a9ac9" stroke-width="1.1"/>
<line x1="602.5" y1="1090.5" x2="608" y2="1088.5" stroke="#4a9ac9" stroke-width="1.1"/>
<line x1="639" y1="1082" x2="642" y2="1084.5" stroke="#4a9ac9" stroke-width="1.1"/>
<line x1="644.5" y1="1087.5" x2="649" y2="1087" stroke="#4a9ac9" stroke-width="1.1"/>
<line x1="649" y1="1087" x2="655" y2="1083" stroke="#4a9ac9" stroke-width="1.1"/>
<line x1="655" y1="1083" x2="658" y2="1081" stroke="#4a9ac9" stroke-width="1.1"/>
<line x1="658.5" y1="1079.5" x2="660" y2="1082" stroke="#4a9ac9" stroke-width="1.1"/>
<line x1="632" y1="1107.5" x2="634.5" y2="1110" stroke="#4a9ac9" stroke-width="1.1"/>
<line x1="635.5" y1="1112.5" x2="637.5" y2="1115" stroke="#4a9ac9" stroke-width="1.1"/>
<line x1="720.5" y1="938.5" x2="723" y2="941.5" stroke="#4a9ac9" stroke-width="1.1"/>
<line x1="712" y1="923" x2="713" y2="926" stroke="#4a9ac9" stroke-width="1.1"/>
<g opacity="0.7"><line x1="201.5" y1="723.4" x2="527.3" y2="847.9" stroke="#9a9a9a" stroke-width="0.65"/>
<line x1="234.2" y1="777.3" x2="627.2" y2="880.9" stroke="#9a9a9a" stroke-width="0.65"/>
<line x1="269.0" y1="830.6" x2="563.4" y2="892.7" stroke="#9a9a9a" stroke-width="0.65"/>
<line x1="309.6" y1="884.6" x2="522.7" y2="915.7" stroke="#9a9a9a" stroke-width="0.65"/>
<line x1="847.2" y1="727.9" x2="770.0" y2="695.5" stroke="#9a9a9a" stroke-width="0.65"/>
<line x1="782.7" y1="773.7" x2="604.4" y2="778.6" stroke="#9a9a9a" stroke-width="0.65"/>
<line x1="783.2" y1="827.5" x2="642.7" y2="801.3" stroke="#9a9a9a" stroke-width="0.65"/>
<line x1="783.2" y1="887.2" x2="685.8" y2="834.2" stroke="#9a9a9a" stroke-width="0.65"/>
<line x1="787.5" y1="930.2" x2="664.7" y2="875.1" stroke="#9a9a9a" stroke-width="0.65"/>
<line x1="783.2" y1="997.7" x2="680.6" y2="911.0" stroke="#9a9a9a" stroke-width="0.65"/>
<line x1="783.2" y1="1051.9" x2="661.0" y2="925.4" stroke="#9a9a9a" stroke-width="0.65"/>
<line x1="512.1" y1="988.2" x2="592.1" y2="930.9" stroke="#9a9a9a" stroke-width="0.65"/></g>
<circle cx="527.3" cy="847.9" r="2.1" fill="#85808a" fill-opacity="0.7"/>
<circle cx="563.4" cy="892.7" r="2.1" fill="#85808a" fill-opacity="0.7"/>
<circle cx="522.7" cy="915.7" r="2.1" fill="#85808a" fill-opacity="0.7"/>
<circle cx="592.1" cy="930.9" r="2.1" fill="#85808a" fill-opacity="0.7"/>
<circle cx="627.2" cy="880.9" r="2.1" fill="#85808a" fill-opacity="0.7"/>
<circle cx="770" cy="695.5" r="2.1" fill="#85808a" fill-opacity="0.7"/>
<circle cx="604.4" cy="778.6" r="2.1" fill="#85808a" fill-opacity="0.7"/>
<circle cx="642.7" cy="801.3" r="2.1" fill="#85808a" fill-opacity="0.7"/>
<circle cx="685.8" cy="834.2" r="2.1" fill="#85808a" fill-opacity="0.7"/>
<circle cx="664.7" cy="875.1" r="2.1" fill="#85808a" fill-opacity="0.7"/>
<circle cx="680.6" cy="911" r="2.1" fill="#85808a" fill-opacity="0.7"/>
<circle cx="661" cy="925.4" r="2.1" fill="#85808a" fill-opacity="0.7"/>
<g font-weight="bold" fill="#17589f">
<text x="343" y="706" font-size="16">新疆</text>
<text x="454" y="731.5" font-size="15.5">甘肃</text>
<text x="442" y="780.5" font-size="16">青海</text>
<text x="356" y="835.5" font-size="16">西藏</text>
<text x="562" y="754.5" font-size="14.5">宁</text>
<text x="561.7" y="774.5" font-size="15">夏</text>
<text x="593" y="795.5" font-size="15">陕</text>
<text x="593" y="815" font-size="15">西</text>
<text x="623.5" y="752" font-size="15">山</text>
<text x="623.5" y="771.5" font-size="15">西</text>
<text x="652" y="679" font-size="16">内蒙古</text>
<text x="758.5" y="642.3" font-size="16.3">黑龙江</text>
<text x="754" y="687.5" font-size="15.5">吉林</text>
<text x="720" y="713" font-size="15.7">辽宁</text>
<text x="657.5" y="728.8" font-size="15.5">北京</text>
<text x="649.5" y="749" font-size="15">河</text>
<text x="650" y="768.5" font-size="15">北</text>
<text x="681" y="751.3" font-size="15.5">天津</text>
<text x="673.5" y="773" font-size="15.3">山东</text>
<text x="689.5" y="807" font-size="15.5">江苏</text>
<text x="622.5" y="817" font-size="16">河南</text>
<text x="670.5" y="827" font-size="14.7">安</text>
<text x="670.3" y="846.6" font-size="15">徽</text>
<text x="614" y="843" font-size="16">湖北</text>
<text x="733.5" y="840.6" font-size="16">上海</text>
<text x="693" y="865.4" font-size="16.2">浙江</text>
<text x="607.7" y="871" font-size="15.4">湖南</text>
<text x="657.3" y="869" font-size="14.7">江</text>
<text x="657.5" y="888" font-size="14.3">西</text>
<text x="669.8" y="902.3" font-size="16">福建</text>
<text x="584" y="842.5" font-size="14">重</text>
<text x="583.8" y="862.3" font-size="14.5">庆</text>
<text x="532" y="841.5" font-size="14.7">四川</text>
<text x="566" y="889.2" font-size="15.3">贵州</text>
<text x="513" y="909.5" font-size="15.2">云南</text>
<text x="580.5" y="922" font-size="15.7">广西</text>
<text x="629.3" y="929.2" font-size="15.8">广东</text>
<text x="702" y="922.8" font-size="15">台湾</text>
<text x="648.6" y="951.2" font-size="13.3">香港</text>
<text x="618.4" y="956.2" font-size="13">澳门</text>
<text x="590" y="975.6" font-size="15.5">海南</text>
</g>
</g>
<g id="callouts">
<rect x="79" y="703.9" width="102.7" height="38.4" rx="5.5" ry="5.5" stroke="#2a2a2e" stroke-width="1.85" stroke-dasharray="3.9 2.5" fill="none"/>
<circle cx="181.7" cy="723.1" r="19.6" stroke="#2a2a2e" stroke-width="1.85" stroke-dasharray="3.9 2.5" fill="#fff"/>
<text x="181.7" y="731" font-size="21" fill="#3a3a3a" text-anchor="middle">川</text>
<text x="114" y="731.5" font-size="21" fill="#3a3a3a">4人</text>
<rect x="112.2" y="757.5" width="102.2" height="38.7" rx="5.5" ry="5.5" stroke="#2a2a2e" stroke-width="1.85" stroke-dasharray="3.9 2.5" fill="none"/>
<circle cx="214.4" cy="777" r="19.6" stroke="#2a2a2e" stroke-width="1.85" stroke-dasharray="3.9 2.5" fill="#fff"/>
<text x="214.4" y="785" font-size="21" fill="#3a3a3a" text-anchor="middle">湘</text>
<text x="142.5" y="785.4" font-size="21" fill="#3a3a3a">19人</text>
<rect x="147.3" y="811" width="101.9" height="39" rx="5.5" ry="5.5" stroke="#2a2a2e" stroke-width="1.85" stroke-dasharray="3.9 2.5" fill="none"/>
<circle cx="249.2" cy="830.3" r="19.6" stroke="#2a2a2e" stroke-width="1.85" stroke-dasharray="3.9 2.5" fill="#fff"/>
<text x="249.2" y="838.5" font-size="21" fill="#3a3a3a" text-anchor="middle">贵</text>
<text x="177.7" y="838.7" font-size="21" fill="#3a3a3a">10人</text>
<rect x="187" y="865" width="102.8" height="39" rx="5.5" ry="5.5" stroke="#2a2a2e" stroke-width="1.85" stroke-dasharray="3.9 2.5" fill="none"/>
<circle cx="289.8" cy="884.3" r="19.6" stroke="#2a2a2e" stroke-width="1.85" stroke-dasharray="3.9 2.5" fill="#fff"/>
<text x="289.8" y="892.5" font-size="21" fill="#3a3a3a" text-anchor="middle">云</text>
<text x="222.5" y="892.7" font-size="21" fill="#3a3a3a">1人</text>
<rect x="867" y="709" width="102" height="38.7" rx="5.5" ry="5.5" stroke="#2a2a2e" stroke-width="1.85" stroke-dasharray="3.9 2.5" fill="none"/>
<circle cx="867" cy="728.2" r="19.6" stroke="#2a2a2e" stroke-width="1.85" stroke-dasharray="3.9 2.5" fill="#fff"/>
<text x="867" y="736.5" font-size="21" fill="#3a3a3a" text-anchor="middle">吉</text>
<text x="903" y="736.6" font-size="21" fill="#3a3a3a">1人</text>
<rect x="802.5" y="754.5" width="102.2" height="38.7" rx="5.5" ry="5.5" stroke="#2a2a2e" stroke-width="1.85" stroke-dasharray="3.9 2.5" fill="none"/>
<circle cx="802.5" cy="774" r="19.6" stroke="#2a2a2e" stroke-width="1.85" stroke-dasharray="3.9 2.5" fill="#fff"/>
<text x="802.9" y="782.2" font-size="21" fill="#3a3a3a" text-anchor="middle">陕</text>
<text x="838.7" y="782.4" font-size="21" fill="#3a3a3a">1人</text>
<rect x="803" y="808.6" width="101.7" height="38.7" rx="5.5" ry="5.5" stroke="#2a2a2e" stroke-width="1.85" stroke-dasharray="3.9 2.5" fill="none"/>
<circle cx="803" cy="827.8" r="19.6" stroke="#2a2a2e" stroke-width="1.85" stroke-dasharray="3.9 2.5" fill="#fff"/>
<text x="803" y="836" font-size="21" fill="#3a3a3a" text-anchor="middle">豫</text>
<text x="838" y="836.2" font-size="21" fill="#3a3a3a">2人</text>
<rect x="803" y="867.8" width="101.9" height="38.7" rx="5.5" ry="5.5" stroke="#2a2a2e" stroke-width="1.85" stroke-dasharray="3.9 2.5" fill="none"/>
<circle cx="803" cy="887.5" r="19.6" stroke="#2a2a2e" stroke-width="1.85" stroke-dasharray="3.9 2.5" fill="#fff"/>
<text x="803" y="895.7" font-size="21" fill="#3a3a3a" text-anchor="middle">皖</text>
<text x="838" y="895.9" font-size="21" fill="#3a3a3a">2人</text>
<rect x="803" y="924.8" width="101.9" height="38.8" rx="5.5" ry="5.5" stroke="#2a2a2e" stroke-width="1.85" stroke-dasharray="3.9 2.5" fill="none"/>
<circle cx="803" cy="944.3" r="19.6" stroke="#2a2a2e" stroke-width="1.85" stroke-dasharray="3.9 2.5" fill="#fff"/>
<text x="803" y="952.5" font-size="21" fill="#3a3a3a" text-anchor="middle">赣</text>
<text x="838" y="952.7" font-size="21" fill="#3a3a3a">9人</text>
<rect x="803" y="978.4" width="101.9" height="38.6" rx="5.5" ry="5.5" stroke="#2a2a2e" stroke-width="1.85" stroke-dasharray="3.9 2.5" fill="none"/>
<circle cx="803" cy="998" r="19.6" stroke="#2a2a2e" stroke-width="1.85" stroke-dasharray="3.9 2.5" fill="#fff"/>
<text x="803" y="1006.2" font-size="21" fill="#3a3a3a" text-anchor="middle">闽</text>
<text x="838.7" y="1006.4" font-size="21" fill="#3a3a3a">1人</text>
<rect x="803" y="1032.3" width="101.9" height="38.9" rx="5.5" ry="5.5" stroke="#2a2a2e" stroke-width="1.85" stroke-dasharray="3.9 2.5" fill="none"/>
<circle cx="803" cy="1052.2" r="19.6" stroke="#2a2a2e" stroke-width="1.85" stroke-dasharray="3.9 2.5" fill="#fff"/>
<text x="803" y="1060.3" font-size="21" fill="#3a3a3a" text-anchor="middle">粤</text>
<text x="838" y="1060.6" font-size="21" fill="#3a3a3a">7人</text>
<rect x="79.7" y="969.7" width="411.6" height="206.7" rx="33" ry="33" stroke="#2a2a2e" stroke-width="1.85" stroke-dasharray="3.9 2.5" fill="none"/>
<circle cx="492.3" cy="989" r="19.6" stroke="#2a2a2e" stroke-width="1.85" stroke-dasharray="3.9 2.5" fill="#fff"/>
<text x="492.3" y="997.2" font-size="21" fill="#3a3a3a" text-anchor="middle">桂</text>
<g font-size="21" fill="#222">
<text x="136.3" y="1003.2" textLength="130.5">南宁市(443人)</text>
<text x="305.9" y="1003.2" textLength="130.4">柳州市(167人)</text>
<text x="136.3" y="1028.8" textLength="130.5">桂林市(271人)</text>
<text x="305.9" y="1028.8" textLength="130.4">梧州市(225人)</text>
<text x="136.3" y="1054.4" textLength="130.5">北海市(102人)</text>
<text x="305.9" y="1054.4" textLength="130.4">钦州市(271人)</text>
<text x="136.8" y="1080.1" textLength="140">防城港市(52人)</text>
<text x="305.9" y="1080.1" textLength="130.4">贵港市(418人)</text>
<text x="136.3" y="1105.7" textLength="130.5">玉林市(546人)</text>
<text x="305.9" y="1105.7" textLength="130.4">百色市(307人)</text>
<text x="136.3" y="1131.3" textLength="130.5">贺州市(169人)</text>
<text x="305.9" y="1131.3" textLength="130.4">河池市(294人)</text>
<text x="136.3" y="1156.9" textLength="130.5">来宾市(140人)</text>
<text x="305.9" y="1156.9" textLength="130.4">崇左市(247人)</text>
</g>
</g>
</svg>
</div></body></html>
